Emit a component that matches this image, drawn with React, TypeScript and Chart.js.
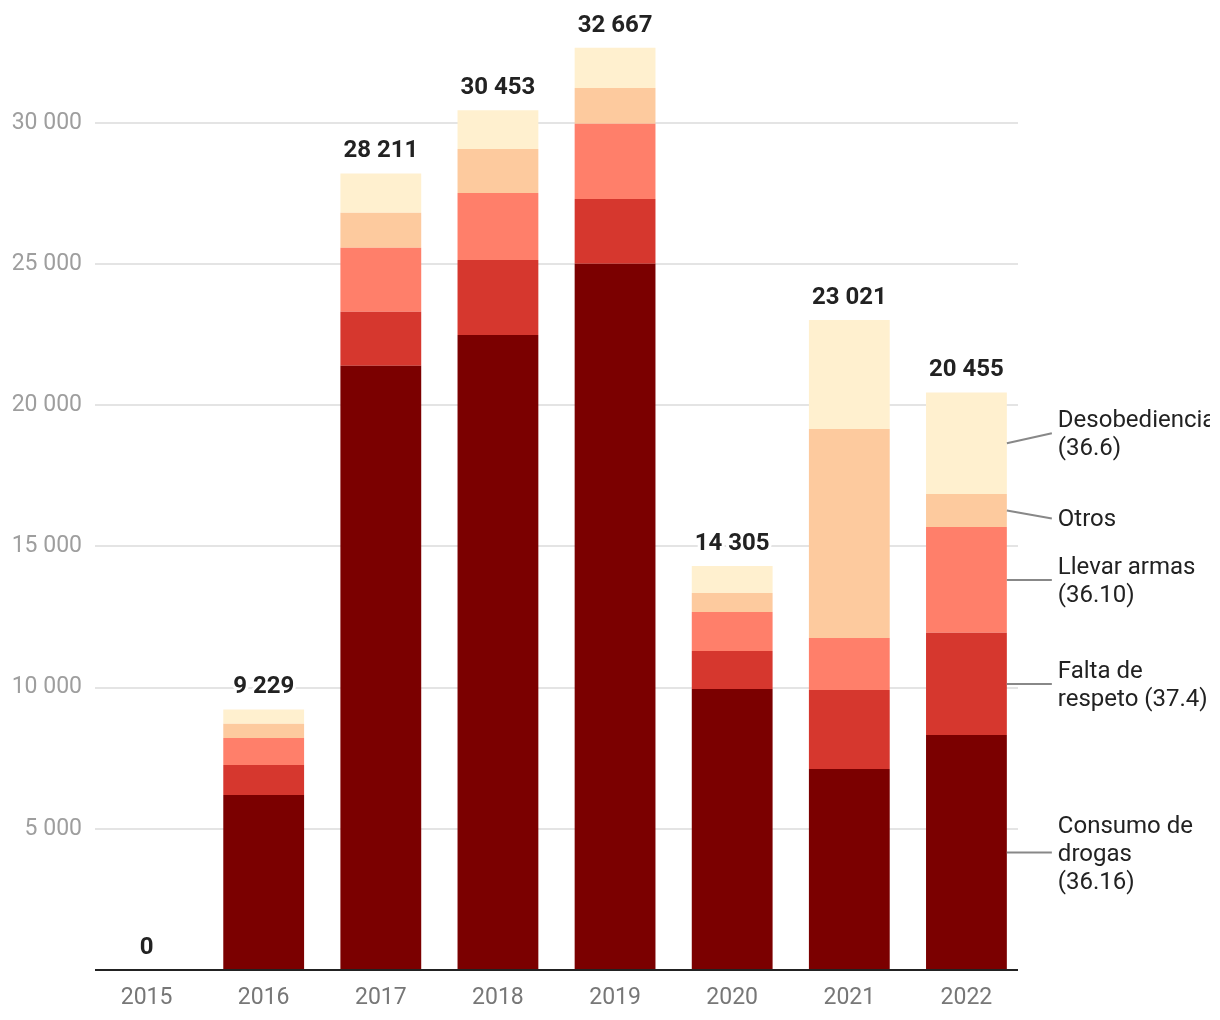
import React, { useEffect, useRef } from "react";
import { Chart, registerables } from "chart.js";

Chart.register(...registerables);

const years = ["2015", "2016", "2017", "2018", "2019", "2020", "2021", "2022"];
const consumo = [0, 6200, 21400, 22490, 25010, 9950, 7120, 8320];
const falta = [0, 1060, 1910, 2660, 2300, 1350, 2800, 3620];
const llevar = [0, 960, 2270, 2370, 2660, 1380, 1840, 3750];
const otros = [0, 500, 1240, 1560, 1270, 670, 7400, 1170];
const desob = [0, 509, 1391, 1373, 1427, 955, 3861, 3595];
const totals = [0, 9229, 28211, 30453, 32667, 14305, 23021, 20455];
const yTicks = [5000, 10000, 15000, 20000, 25000, 30000];

const seriesNames = [
  ["Consumo de", "drogas", "(36.16)"],
  ["Falta de", "respeto (37.4)"],
  ["Llevar armas", "(36.10)"],
  ["Otros"],
  ["Desobediencia", "(36.6)"],
];
const seriesColors = ["#7b0000", "#d6372e", "#ff7f6a", "#fdca9e", "#fff0cf"];
const labelNudges = [0, 0, 0, 8, -10];

const fmt = (v: number) => String(v).replace(/\B(?=(\d{3})+(?!\d))/g, " ");

const FONT = "Roboto, 'Noto Sans', sans-serif";

export default function App() {
  const ref = useRef<HTMLCanvasElement | null>(null);

  useEffect(() => {
    if (!ref.current) return;
    const series = [consumo, falta, llevar, otros, desob];

    const decor = {
      id: "decor",
      beforeDatasetsDraw(chart: any) {
        const { ctx, chartArea, scales } = chart;
        const y = scales.y;
        ctx.save();
        ctx.strokeStyle = "#e4e4e4";
        ctx.lineWidth = 2;
        yTicks.forEach((t) => {
          const py = Math.round(y.getPixelForValue(t));
          ctx.beginPath();
          ctx.moveTo(chartArea.left + 7, py);
          ctx.lineTo(chartArea.right - 7, py);
          ctx.stroke();
        });
        ctx.restore();
      },
      afterDatasetsDraw(chart: any) {
        const { ctx, chartArea, scales } = chart;
        const x = scales.x;
        const y = scales.y;
        ctx.save();
        // axis line
        ctx.strokeStyle = "#222";
        ctx.lineWidth = 2;
        ctx.beginPath();
        ctx.moveTo(chartArea.left + 7, chartArea.bottom);
        ctx.lineTo(chartArea.right - 7, chartArea.bottom);
        ctx.stroke();

        // totals
        ctx.font = `bold 24px ${FONT}`;
        ctx.textAlign = "center";
        ctx.textBaseline = "alphabetic";
        totals.forEach((t, i) => {
          const px = x.getPixelForValue(i);
          const py = y.getPixelForValue(t) - 16;
          ctx.lineWidth = 6;
          ctx.strokeStyle = "#fff";
          ctx.lineJoin = "round";
          ctx.strokeText(fmt(t), px, py);
          ctx.fillStyle = "#222";
          ctx.fillText(fmt(t), px, py);
        });

        // side labels for last bar
        const last = years.length - 1;
        ctx.font = `24px ${FONT}`;
        ctx.textAlign = "left";
        ctx.textBaseline = "middle";
        series.forEach((_, si) => {
          const meta = chart.getDatasetMeta(si);
          const el: any = meta.data[last];
          const right = el.x + el.width / 2;
          const mid = (el.y + el.base) / 2;
          const cy = mid + labelNudges[si];
          ctx.strokeStyle = "#888";
          ctx.lineWidth = 2;
          ctx.beginPath();
          ctx.moveTo(right, mid);
          ctx.lineTo(right + 45, cy);
          ctx.stroke();
          const lines = seriesNames[si];
          ctx.fillStyle = "#222";
          lines.forEach((ln, li) => {
            ctx.fillText(ln, right + 51, cy + 2 + (li - (lines.length - 1) / 2) * 28);
          });
        });
        ctx.restore();
      },
    };

    const chart = new Chart(ref.current, {
      type: "bar",
      data: {
        labels: years,
        datasets: series.map((d, i) => ({
          label: seriesNames[i].join(" "),
          data: d,
          backgroundColor: seriesColors[i],
          borderWidth: 0,
          barPercentage: 0.69,
          categoryPercentage: 1,
        })),
      },
      options: {
        animation: false,
        responsive: false,
        layout: { padding: { left: 0, right: 185, top: 10, bottom: 0 } },
        plugins: {
          legend: { display: false },
          tooltip: { enabled: false },
        },
        scales: {
          x: {
            stacked: true,
            grid: { display: false, drawTicks: false },
            border: { display: false },
            ticks: {
              color: "#777",
              font: { family: FONT, size: 23 },
              padding: 14,
              maxRotation: 0,
            },
            afterFit: (s: any) => {
              s.height = 50;
              s.paddingLeft = 0;
              s.paddingRight = 0;
            },
          },
          y: {
            stacked: true,
            min: 0,
            max: 34000,
            grid: { display: false, drawTicks: false },
            border: { display: false },
            afterBuildTicks: (s: any) => {
              s.ticks = yTicks.map((v) => ({ value: v }));
            },
            ticks: {
              color: "#9e9e9e",
              font: { family: FONT, size: 23 },
              padding: 6,
              callback: (v: any) => fmt(Number(v)),
            },
            afterFit: (s: any) => {
              s.width = 88;
              s.paddingTop = 0;
              s.paddingBottom = 0;
            },
          },
        },
      },
      plugins: [decor],
    });
    return () => chart.destroy();
  }, []);

  return (
    <div style={{ position: "absolute", left: 0, top: 0, width: 1210, height: 1020, background: "#fff" }}>
      <canvas ref={ref} width={1210} height={1020} />
    </div>
  );
}
